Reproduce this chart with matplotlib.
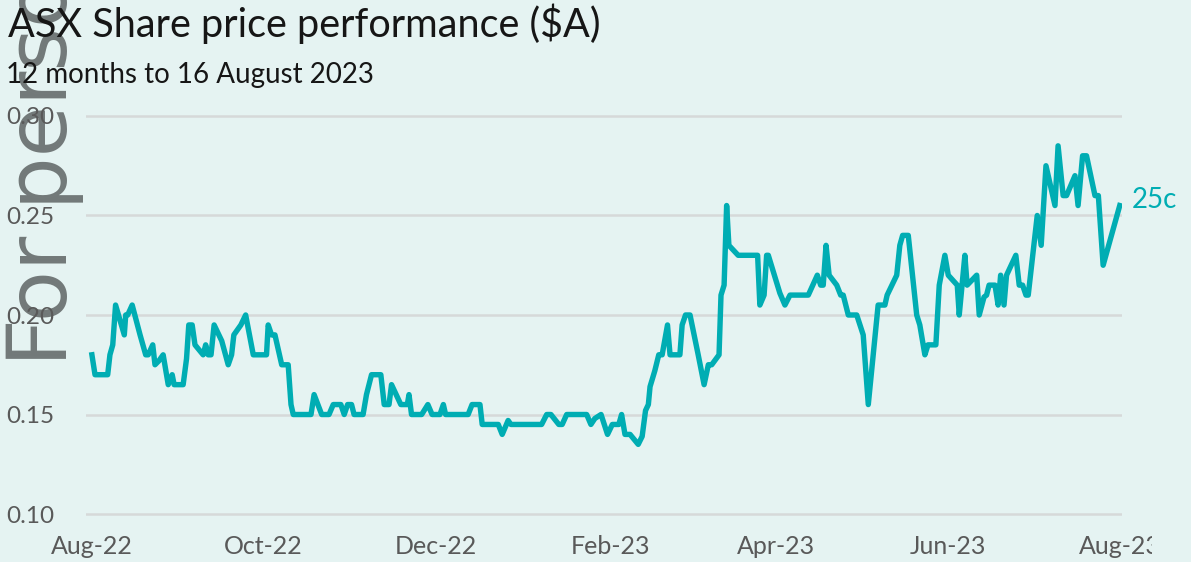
import datetime as dt
import matplotlib
matplotlib.use("Agg")
import matplotlib.pyplot as plt
import matplotlib.dates as mdates
from matplotlib.patches import Rectangle

# trading days since 16 Aug 2022 and closing price ($A)
days = [0.0, 1.1, 5.6, 6.4, 7.4, 8.4, 11.5, 12.0, 12.7, 14.3, 17.1, 19.1, 20.0, 21.6,
        22.4, 23.8, 25.3, 27.1, 28.5, 29.2, 32.4, 33.6, 34.4, 35.6, 36.6, 39.5, 40.4,
        41.3, 42.3, 43.4, 46.1, 48.4, 49.6, 50.4, 52.9, 54.6, 57.3, 62.0, 62.6, 63.8,
        65.0, 67.4, 69.7, 70.7, 71.5, 77.8, 78.9, 81.6, 84.2, 85.7, 88.4, 89.6, 90.8,
        92.2, 93.1, 96.3, 97.5, 99.3, 102.6, 103.8, 105.5, 106.4, 109.7, 112.0, 112.6,
        113.5, 117.1, 119.3, 120.8, 123.6, 124.8, 125.6, 133.6, 135.0, 137.8, 138.6,
        144.3, 145.7, 147.8, 148.8, 159.7, 161.5, 163.0, 165.8, 167.0, 168.6, 175.7,
        177.2, 178.6, 180.8, 183.1, 184.8, 187.1, 188.1, 189.3, 191.1, 194.0, 195.4,
        196.6, 197.6, 198.2, 199.9, 201.3, 202.5, 204.4, 205.3, 208.8, 209.6, 210.8,
        212.4, 215.3, 217.4, 218.9, 220.1, 222.7, 223.4, 224.5, 225.4, 226.2, 229.5,
        236.4, 237.2, 238.7, 239.6, 240.2, 244.3, 246.1, 247.9, 254.4, 257.6, 258.8,
        259.7, 260.7, 261.8, 264.5, 265.9, 266.8, 268.6, 271.6, 273.9, 275.7, 279.2,
        281.6, 282.4, 285.8, 286.9, 287.9, 289.9, 292.9, 294.0, 295.8, 296.9, 299.7,
        300.9, 302.9, 304.1, 307.3, 308.0, 310.0, 310.8, 314.2, 315.1, 316.8, 317.7,
        318.6, 320.7, 321.8, 322.7, 323.9, 324.8, 328.1, 329.3, 330.5, 331.7, 332.5,
        334.5, 335.7, 337.1, 338.8, 342.0, 343.1, 344.9, 346.1, 349.1, 350.2, 351.8,
        353.2, 356.2, 357.4, 359.1, 365.0]
price = [0.180, 0.170, 0.170, 0.180, 0.185, 0.205, 0.190, 0.200, 0.200, 0.205, 0.190,
         0.180, 0.180, 0.185, 0.175, 0.177, 0.180, 0.165, 0.170, 0.165, 0.165, 0.178,
         0.195, 0.195, 0.185, 0.180, 0.185, 0.180, 0.180, 0.195, 0.187, 0.175, 0.180,
         0.190, 0.195, 0.200, 0.180, 0.180, 0.195, 0.190, 0.190, 0.175, 0.175, 0.155,
         0.150, 0.150, 0.160, 0.150, 0.150, 0.155, 0.155, 0.150, 0.155, 0.155, 0.150,
         0.150, 0.160, 0.170, 0.170, 0.155, 0.155, 0.165, 0.155, 0.155, 0.160, 0.150,
         0.150, 0.155, 0.150, 0.150, 0.155, 0.150, 0.150, 0.155, 0.155, 0.145, 0.145,
         0.140, 0.147, 0.145, 0.145, 0.150, 0.150, 0.145, 0.145, 0.150, 0.150, 0.145,
         0.148, 0.150, 0.140, 0.145, 0.145, 0.150, 0.140, 0.140, 0.135, 0.139, 0.152,
         0.155, 0.164, 0.172, 0.180, 0.180, 0.195, 0.180, 0.180, 0.195, 0.200, 0.200,
         0.180, 0.165, 0.175, 0.175, 0.180, 0.210, 0.215, 0.255, 0.235, 0.230, 0.230,
         0.205, 0.210, 0.230, 0.230, 0.211, 0.205, 0.210, 0.210, 0.220, 0.215, 0.215,
         0.235, 0.220, 0.215, 0.210, 0.210, 0.200, 0.200, 0.190, 0.155, 0.205, 0.205,
         0.210, 0.220, 0.235, 0.240, 0.240, 0.200, 0.195, 0.180, 0.185, 0.185, 0.215,
         0.230, 0.220, 0.215, 0.200, 0.230, 0.215, 0.220, 0.200, 0.209, 0.210, 0.215,
         0.215, 0.205, 0.220, 0.205, 0.220, 0.230, 0.215, 0.215, 0.210, 0.210, 0.235,
         0.250, 0.235, 0.275, 0.255, 0.285, 0.260, 0.260, 0.270, 0.255, 0.280, 0.280,
         0.260, 0.260, 0.225, 0.255]
tick_dates = ["2022-08-16", "2022-10-16", "2022-12-16", "2023-02-16",
              "2023-04-16", "2023-06-16", "2023-08-16"]
y_ticks = [0.10, 0.15, 0.20, 0.25, 0.30]

bg = "#e5f3f2"
teal = "#00adb3"
start = mdates.date2num(dt.datetime(2022, 8, 16))
x = [start + d for d in days]

fig = plt.figure(figsize=(11.91, 5.62), dpi=100, facecolor=bg)
ax = fig.add_axes([86 / 1191, 1 - 518 / 562, 1036 / 1191, 406 / 562])
ax.set_facecolor("none")

ax.plot(x, price, color=teal, lw=3.9, solid_joinstyle="round", zorder=3)
ax.annotate("25c", xy=(x[-1], price[-1]), xytext=(9, 4), textcoords="offset points",
            color=teal, fontsize=20, fontfamily="Lato", va="center", ha="left",
            annotation_clip=False)

ax.set_ylim(0.098, 0.302)
ax.set_xlim(start - 2.1, start + 365.8)
ax.set_yticks(y_ticks)
ax.set_yticklabels([f"{v:.2f}" for v in y_ticks])
ax.set_xticks([mdates.date2num(dt.datetime.strptime(d, "%Y-%m-%d")) for d in tick_dates])
ax.xaxis.set_major_formatter(mdates.DateFormatter("%b-%y"))
ax.grid(axis="y", color="#d6d9d9", lw=1.8)
ax.set_axisbelow(True)
for s in ax.spines.values():
    s.set_visible(False)
ax.tick_params(axis="y", length=0, pad=23, labelsize=17.5, labelcolor="#595959")
ax.tick_params(axis="x", length=0, pad=12, labelsize=18, labelcolor="#595959")
for lbl in ax.get_xticklabels() + ax.get_yticklabels():
    lbl.set_fontfamily("Lato")

fig.text(8 / 1191, 1 - 37 / 562, "ASX Share price performance ($A)", fontsize=28.5,
         fontfamily="Lato", color="#161616", va="baseline", ha="left")
fig.text(6 / 1191, 1 - 83 / 562, "12 months to 16 August 2023", fontsize=20,
         fontfamily="Lato", color="#161616", va="baseline", ha="left")

# watermark
fig.text(67 / 1191, 1 - 366 / 562, "For personal use only", rotation=90,
         rotation_mode="anchor", ha="left", va="baseline", fontsize=60,
         color="#727979", zorder=-1)

# last x label is cut off in the original
fig.patches.append(Rectangle((1152 / 1191, 0), 1, 30 / 562, transform=fig.transFigure,
                             facecolor=bg, edgecolor="none", zorder=10))

fig.savefig("out.png", dpi=100, facecolor=bg)
